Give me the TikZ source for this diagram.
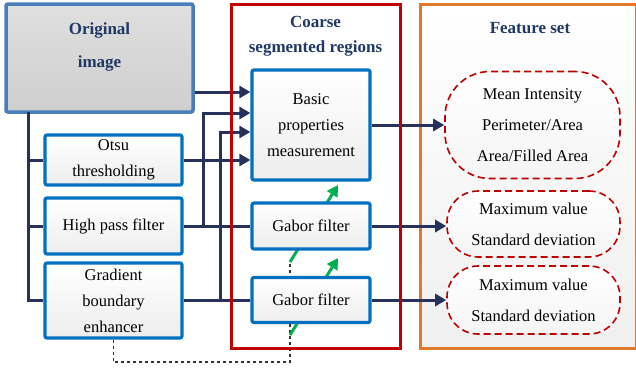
\documentclass[tikz,border=0pt]{standalone}
\usepackage{fontspec}
\setmainfont{Liberation Serif}
\usetikzlibrary{arrows.meta}

\definecolor{linkblue}{RGB}{38,50,92}
\definecolor{boxblue}{RGB}{0,112,192}
\definecolor{origblue}{RGB}{74,126,187}
\definecolor{titleblue}{RGB}{31,56,100}
\definecolor{framered}{RGB}{192,0,0}
\definecolor{frameorange}{RGB}{224,122,42}
\definecolor{cuegreen}{RGB}{0,176,80}

\begin{document}
\begin{tikzpicture}[x=1pt, y=-1pt,
	every node/.style={font=\fontsize{16.5}{26}\selectfont, inner sep=0pt},
	>={Triangle[length=11pt,width=12pt]},
	proc/.style={draw=boxblue, line width=3.2pt, rounded corners=2pt, top color=white, bottom color=gray!14, align=center},
	feat/.style={draw=framered, dash pattern=on 7pt off 4pt, line width=1.6pt, rounded corners=31pt, top color=white, bottom color=gray!8, align=center, font=\fontsize{16.5}{31}\selectfont},
	title/.style={text=titleblue, font=\bfseries\fontsize{17}{25}\selectfont, align=center},
	link/.style={draw=linkblue, line width=3pt},
	cue/.style={draw=cuegreen, line width=3pt},
	hint/.style={draw=black!80, line width=1.8pt, dash pattern=on 3pt off 3pt}]
	\useasboundingbox (0,0) rectangle (636,368);
	% feature set frame
	\node[draw=frameorange, line width=3pt, top color=white, bottom color=gray!12, minimum width=216pt, minimum height=344pt] (featset) at (528,176) {};
	% inputs on the left
	\node[draw=origblue, line width=3.5pt, rounded corners=2pt, top color=gray!25, bottom color=gray!38, minimum width=187pt, minimum height=108pt] (orig) at (99.5,58) {};
	\node[title, font=\bfseries\fontsize{17}{33}\selectfont] (origtext) at (99.5,46.5) {Original\\image};
	\node[proc, minimum width=137pt, minimum height=50pt] (otsu) at (113.5,160) {Otsu\\thresholding};
	\node[proc, minimum width=137pt, minimum height=56pt] (hpf) at (113.5,226) {High pass filter};
	\node[proc, minimum width=137pt, minimum height=75pt] (grad) at (113.5,300.5) {Gradient\\boundary\\enhancer};
	% gradient cue, runs behind the Gabor boxes
	\coordinate (gA) at (290,262);
	\coordinate (gB) at (338,185);
	\coordinate (gC) at (290,335);
	\coordinate (gD) at (338,258);
	\coordinate (low) at (0,362);
	\draw[hint] (grad.south) |- (low -| gA) -- (gA);
	\draw[cue,->] (gA) -- (gB);
	\draw[cue,->] (gC) -- (gD);
	% region processing
	\node[proc, minimum width=118pt, minimum height=110pt] (basic) at (311,125) {Basic\\properties\\measurement};
	\node[proc, minimum width=118pt, minimum height=46pt] (gab1) at (311,226) {Gabor filter};
	\node[proc, minimum width=118pt, minimum height=45pt] (gab2) at (311,300) {Gabor filter};
	% features
	\node[feat, rounded corners=45pt, minimum width=175pt, minimum height=107pt] (fbasic) at (532.5,125) {Mean Intensity\\Perimeter/Area\\Area/Filled Area};
	\node[feat, minimum width=173pt, minimum height=66pt] (fgab1) at (533.5,224) {Maximum value\\Standard deviation};
	\node[feat, minimum width=173pt, minimum height=68pt] (fgab2) at (533.5,300) {Maximum value\\Standard deviation};
	% connectors
	\coordinate (trunk) at (28,112);
	\coordinate (rowA) at (0,92);
	\coordinate (rowB) at (0,113);
	\coordinate (rowC) at (0,132);
	\coordinate (colB) at (203,0);
	\coordinate (colC) at (220,0);
	\draw[link] (trunk) |- (grad.west);
	\draw[link] (trunk |- otsu.west) -- (otsu.west);
	\draw[link] (trunk |- hpf.west) -- (hpf.west);
	\draw[link,->] (orig.east |- rowA) -- (basic.west |- rowA);
	\draw[link,->] (otsu.east) -- (basic.west |- otsu.east);
	\draw[link] (hpf.east) -- (gab1.west);
	\draw[link,->] (colB |- hpf.east) |- (basic.west |- rowB);
	\draw[link] (grad.east) -- (gab2.west |- grad.east);
	\draw[link,->] (colC |- grad.east) |- (basic.west |- rowC);
	\draw[link,->] (basic.east) -- (fbasic.west);
	\draw[link,->] (gab1.east) -- (fgab1.west |- gab1.east);
	\draw[link,->] (gab2.east) -- (fgab2.west);
	% coarse regions frame and titles
	\node[draw=framered, line width=3pt, minimum width=169pt, minimum height=344pt] (coarse) at (315.5,176) {};
	\node[title] (coarsetitle) at (315.5,36.5) {Coarse\\segmented regions};
	\node[title] (feattitle) at (530,28) {Feature set};
\end{tikzpicture}
\end{document}
